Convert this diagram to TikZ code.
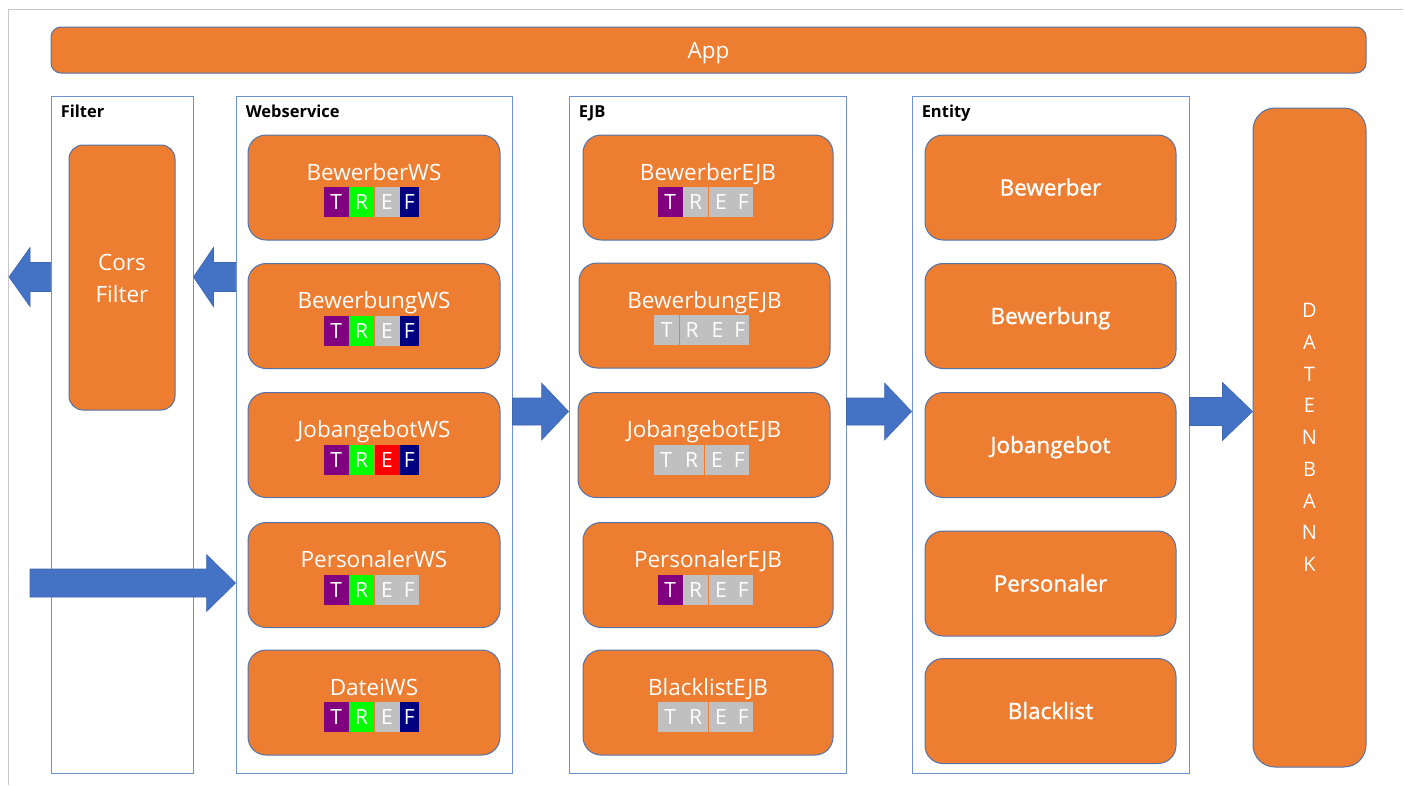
\documentclass[tikz,border=0pt]{standalone}
\usepackage{fontspec}
\setmainfont{Open Sans}
\newfontfamily\heavyfont[FakeBold=1.2]{Open Sans}
\usetikzlibrary{calc}

\definecolor{cardfill}{HTML}{ED7D31}
\definecolor{cardline}{HTML}{5373AA}
\definecolor{groupline}{HTML}{6F91D0}
\definecolor{flowfill}{HTML}{4472C4}
\definecolor{flowline}{HTML}{3F66B0}
\definecolor{pageline}{HTML}{C8C8C8}
\definecolor{tPurple}{HTML}{800080}
\definecolor{tGreen}{HTML}{00FF00}
\definecolor{tRed}{HTML}{FF0000}
\definecolor{tGray}{HTML}{C0C0C0}
\definecolor{tNavy}{HTML}{000080}

\tikzset{
  card/.style={draw=cardline, line width=1pt, fill=cardfill, rounded corners=18pt, inner sep=0pt},
  group/.style={draw=groupline, line width=0.9pt, inner sep=0pt},
  grouptitle/.style={font=\fontsize{16.5}{20}\selectfont\bfseries, anchor=base west, inner sep=0pt},
  cardname/.style={text=white, font=\fontsize{22.5}{27}\selectfont, inner sep=0pt},
  entityname/.style={cardname, font=\heavyfont\fontsize{22.5}{27}\selectfont, anchor=base},
  cell/.style={inner sep=0pt, minimum height=30pt, text=white, anchor=west,
               font=\fontsize{21}{24}\selectfont},
  flow/.style={fill=flowfill, draw=flowline, line width=0.6pt},
}

% name line and T/R/E/F status strip of a component card
\newcommand\component[7]{%
  \node[cardname, anchor=base] (#2name) at ($(#1.center)+(0,-7.5)$) {#3};
  \node[cell, minimum width=25pt, fill=#4] (#2T) at ($(#1.center)+(-50.5,14.5)$) {T};
  \node[cell, minimum width=25pt, fill=#5] (#2R) at (#2T.east) {R};
  \node[cell, minimum width=25pt, fill=#6] (#2E) at (#2R.east) {E};
  \node[cell, minimum width=19pt, fill=#7] (#2F) at (#2E.east) {F};
}

% horizontal block arrow: tail, tip, shaft half height, head half height, head length
\newcommand\blockarrow[5]{%
  \path[flow] let \p1=(#1), \p2=(#2), \n1={sign(\x2-\x1)} in
    (\x1,\y2+#3pt) -- (\x2-\n1*#5pt,\y2+#3pt) -- (\x2-\n1*#5pt,\y2+#4pt)
    -- (\x2,\y2) -- (\x2-\n1*#5pt,\y2-#4pt) -- (\x2-\n1*#5pt,\y2-#3pt)
    -- (\x1,\y2-#3pt) -- cycle;
}

\begin{document}
\begin{tikzpicture}[x=1pt,y=-1pt]
\useasboundingbox (0,0) rectangle (1406,785);

% page edge
\draw[pageline, line width=1pt] (1403,9) -- (8,9) -- (8,785);

% application bar
\node[card, rounded corners=10pt, minimum width=1315pt, minimum height=46pt] (app) at (708.5,50) {};
\node[cardname, anchor=base] (apptext) at ($(app.center)+(0,8)$) {App};

% layer groups
\node[group, minimum width=142pt, minimum height=677pt] (filter) at (122,434.5) {};
\node[group, minimum width=276pt, minimum height=677pt] (ws) at (374,434.5) {};
\node[group, minimum width=277pt, minimum height=677pt] (ejb) at (707.5,434.5) {};
\node[group, minimum width=277pt, minimum height=677pt] (entity) at (1050.5,434.5) {};
\node[grouptitle] (filtertitle) at ($(filter.north west)+(10,22)$) {Filter};
\node[grouptitle] (wstitle) at ($(ws.north west)+(10,22)$) {Webservice};
\node[grouptitle] (ejbtitle) at ($(ejb.north west)+(10,22)$) {EJB};
\node[grouptitle] (entitytitle) at ($(entity.north west)+(10,22)$) {Entity};

% filter
\node[card, rounded corners=14pt, minimum width=106pt, minimum height=265pt] (cors) at (122,277.5) {};
\node[cardname, align=center, font=\fontsize{22.5}{32}\selectfont] (corstext) at ($(cors.center)+(0,1)$) {Cors\\Filter};

% database
\node[card, rounded corners=22pt, minimum width=113pt, minimum height=659pt] (db) at (1309.5,437.5) {};
\node[cardname, align=center, font=\fontsize{20}{31.7}\selectfont] (dbtext) at (db.center) {D\\A\\T\\E\\N\\B\\A\\N\\K};

% web services
\node[card, minimum width=252pt, minimum height=105pt] (bws) at (374,187.5) {};
\node[card, minimum width=252pt, minimum height=105pt] (bgws) at (374,316) {};
\node[card, minimum width=252pt, minimum height=105pt] (jws) at (374,445) {};
\node[card, minimum width=252pt, minimum height=105pt] (pws) at (374,575) {};
\node[card, minimum width=252pt, minimum height=105pt] (dws) at (374,702.5) {};
\component{bws}{bws}{BewerberWS}{tPurple}{tGreen}{tGray}{tNavy}
\component{bgws}{bgws}{BewerbungWS}{tPurple}{tGreen}{tGray}{tNavy}
\component{jws}{jws}{JobangebotWS}{tPurple}{tGreen}{tRed}{tNavy}
\component{pws}{pws}{PersonalerWS}{tPurple}{tGreen}{tGray}{tGray}
\component{dws}{dws}{DateiWS}{tPurple}{tGreen}{tGray}{tNavy}

% EJBs
\node[card, minimum width=250pt, minimum height=105pt] (bejb) at (708,187.5) {};
\node[card, minimum width=251pt, minimum height=105pt] (bgejb) at (704.5,315.5) {};
\node[card, minimum width=252pt, minimum height=105pt] (jejb) at (704,445) {};
\node[card, minimum width=250pt, minimum height=105pt] (pejb) at (708,575) {};
\node[card, minimum width=250pt, minimum height=105pt] (blejb) at (708,702.5) {};
\component{bejb}{bejb}{BewerberEJB}{tPurple}{tGray}{tGray}{tGray}
\component{bgejb}{bgejb}{BewerbungEJB}{tGray}{tGray}{tGray}{tGray}
\component{jejb}{jejb}{JobangebotEJB}{tGray}{tGray}{tGray}{tGray}
\component{pejb}{pejb}{PersonalerEJB}{tPurple}{tGray}{tGray}{tGray}
\component{blejb}{blejb}{BlacklistEJB}{tGray}{tGray}{tGray}{tGray}

% entities
\node[card, minimum width=251pt, minimum height=105pt] (be) at (1050.5,187.5) {};
\node[card, minimum width=251pt, minimum height=105pt] (bge) at (1050.5,316) {};
\node[card, minimum width=251pt, minimum height=105pt] (je) at (1050.5,445) {};
\node[card, minimum width=251pt, minimum height=105pt] (pe) at (1050.5,583.5) {};
\node[card, minimum width=251pt, minimum height=105pt] (ble) at (1050.5,711) {};
\node[entityname] (betext) at ($(be.center)+(0,8)$) {Bewerber};
\node[entityname] (bgetext) at ($(bge.center)+(0,8)$) {Bewerbung};
\node[entityname] (jetext) at ($(je.center)+(0,8)$) {Jobangebot};
\node[entityname] (petext) at ($(pe.center)+(0,8)$) {Personaler};
\node[entityname] (bletext) at ($(ble.center)+(0,8)$) {Blacklist};

% data flow
\coordinate (outside) at (9,277);
\coordinate (request) at (30,583);
\coordinate (flowline) at (0,411.5);
\blockarrow{filter.west |- outside}{outside}{14.5}{29.5}{21}
\blockarrow{ws.west |- outside}{filter.east |- outside}{14.5}{29.5}{20}
\blockarrow{request}{ws.west |- request}{14}{28.5}{29}
\blockarrow{ws.east |- flowline}{ejb.west |- flowline}{13.5}{28.5}{27}
\blockarrow{ejb.east |- flowline}{entity.west |- flowline}{13.5}{28.5}{27}
\blockarrow{entity.east |- flowline}{db.west |- flowline}{14}{29}{30}

\end{tikzpicture}
\end{document}
